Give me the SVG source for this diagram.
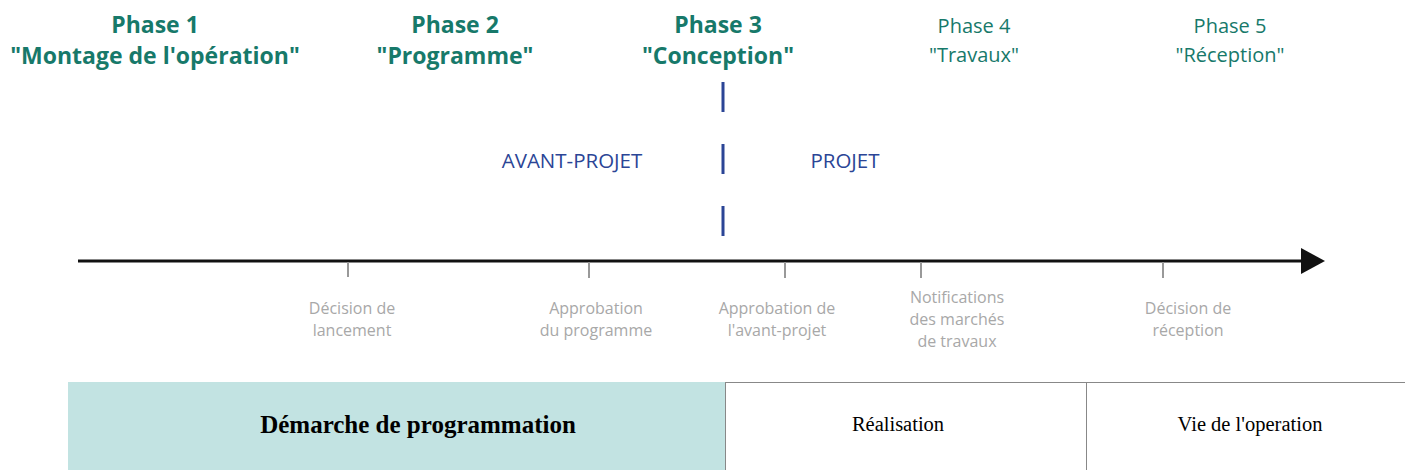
<svg xmlns="http://www.w3.org/2000/svg" width="1405" height="470" viewBox="0 0 1405 470">
<style>
.ph{font-family:"Open Sans","Liberation Sans",sans-serif;fill:#17796a;text-anchor:middle}
.b{font-weight:bold;font-size:23px}
.r{font-size:20px}
.blue{font-family:"Open Sans","Liberation Sans",sans-serif;fill:#2b4596;font-size:20.5px;text-anchor:middle}
.ms{font-family:"Open Sans","Liberation Sans",sans-serif;fill:#a8a8a8;font-size:16px;text-anchor:middle}
.tick{stroke:#999;stroke-width:2}
.box{stroke:#888;stroke-width:1}
.st{font-family:"Liberation Serif","Times New Roman",serif;fill:#000;text-anchor:middle}
</style>
<defs>
<marker id="ah" markerUnits="userSpaceOnUse" markerWidth="24" markerHeight="26" refX="0" refY="13" orient="auto">
<path d="M0,0 L24,13 L0,26 Z" fill="#111"/>
</marker>
</defs>
<rect width="1405" height="470" fill="#fff"/>
<g id="phase1"><text class="ph b" x="155" y="33">Phase 1</text><text class="ph b" x="155" y="64">"Montage de l'opération"</text></g>
<g id="phase2"><text class="ph b" x="455" y="33">Phase 2</text><text class="ph b" x="455" y="64">"Programme"</text></g>
<g id="phase3"><text class="ph b" x="718" y="33">Phase 3</text><text class="ph b" x="718" y="64">"Conception"</text></g>
<g id="phase4"><text class="ph r" x="974" y="33">Phase 4</text><text class="ph r" x="974" y="62">"Travaux"</text></g>
<g id="phase5"><text class="ph r" x="1230" y="33">Phase 5</text><text class="ph r" x="1230" y="62">"Réception"</text></g>
<g id="avant-projet"><text class="blue" x="572" y="168">AVANT-PROJET</text></g>
<g id="projet"><text class="blue" x="845" y="168">PROJET</text></g>
<g id="connectors">
<line x1="723" y1="82" x2="723" y2="236" stroke="#2b4596" stroke-width="3" stroke-dasharray="30 32"/>
<line x1="78" y1="261" x2="1301" y2="261" stroke="#111" stroke-width="3" marker-end="url(#ah)"/>
<line class="tick" x1="348" y1="262" x2="348" y2="277"/>
<line class="tick" x1="589" y1="262" x2="589" y2="278"/>
<line class="tick" x1="785" y1="262" x2="785" y2="278"/>
<line class="tick" x1="921" y1="262" x2="921" y2="278"/>
<line class="tick" x1="1163" y1="262" x2="1163" y2="278"/>
</g>
<g id="m1"><text class="ms" x="352" y="314">Décision de</text><text class="ms" x="352" y="336">lancement</text></g>
<g id="m2"><text class="ms" x="596" y="314">Approbation</text><text class="ms" x="596" y="336">du programme</text></g>
<g id="m3"><text class="ms" x="777" y="314">Approbation de</text><text class="ms" x="777" y="336">l'avant-projet</text></g>
<g id="m4"><text class="ms" x="957" y="303">Notifications</text><text class="ms" x="957" y="325">des marchés</text><text class="ms" x="957" y="347">de travaux</text></g>
<g id="m5"><text class="ms" x="1188" y="314">Décision de</text><text class="ms" x="1188" y="336">réception</text></g>
<g id="demarche"><rect x="68" y="382" width="657" height="90" fill="#c2e3e2"/><text class="st" x="418" y="433" font-size="25" font-weight="bold">Démarche de programmation</text></g>
<g id="realisation"><rect class="box" x="725.5" y="382.5" width="361" height="90" fill="#fff"/><text class="st" x="898" y="431" font-size="20.5">Réalisation</text></g>
<g id="vie"><rect class="box" x="1086.5" y="382.5" width="330" height="90" fill="#fff"/><text class="st" x="1250" y="431" font-size="20.5">Vie de l'operation</text></g>
</svg>
